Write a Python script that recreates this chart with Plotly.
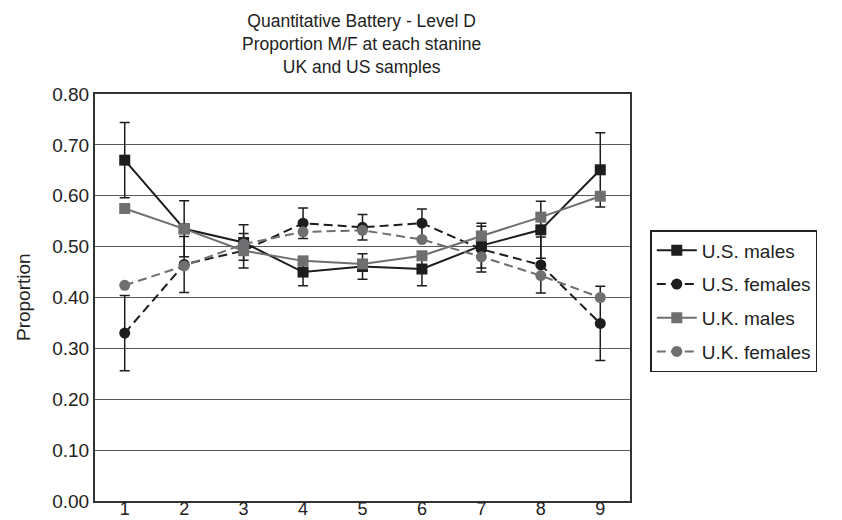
import plotly.graph_objects as go

stanines = [1, 2, 3, 4, 5, 6, 7, 8, 9]
us_males = [0.670, 0.535, 0.508, 0.450, 0.461, 0.456, 0.502, 0.533, 0.651]
us_males_err = [0.074, 0.055, 0.035, 0.027, 0.025, 0.033, 0.044, 0.056, 0.073]
us_females = [0.330, 0.465, 0.492, 0.546, 0.538, 0.546, 0.495, 0.464, 0.349]
us_females_err = [0.074, 0.055, 0.034, 0.030, 0.025, 0.028, 0.045, 0.055, 0.073]
uk_males = [0.575, 0.535, 0.492, 0.472, 0.466, 0.482, 0.521, 0.558, 0.599]
uk_females = [0.424, 0.462, 0.505, 0.529, 0.532, 0.514, 0.480, 0.443, 0.400]
y_ticks = [0.0, 0.1, 0.2, 0.3, 0.4, 0.5, 0.6, 0.7, 0.8]
title_lines = ["Quantitative Battery - Level D",
               "Proportion M/F at each stanine",
               "UK and US samples"]

BLACK = "#1e1c1d"
GREY = "#6f6f71"
FONT = "Liberation Sans, Arial, sans-serif"

W, H = 842, 520
L, R, T, B = 86.5, 621.7, 86.0, 493.0

fig = go.Figure()
fig.add_trace(go.Scatter(
    x=stanines, y=us_males, name="U.S. males", legendgroup="a",
    mode="lines+markers",
    line=dict(color=BLACK, width=2),
    marker=dict(symbol="square", size=11, color=BLACK),
    error_y=dict(type="data", array=us_males_err, color=BLACK, thickness=1.5, width=5),
))
fig.add_trace(go.Scatter(
    x=stanines, y=us_females, name="U.S. females", legendgroup="b",
    mode="lines+markers",
    line=dict(color=BLACK, width=2, dash="9px,5px"),
    marker=dict(symbol="circle", size=11, color=BLACK),
    error_y=dict(type="data", array=us_females_err, color=BLACK, thickness=1.5, width=5),
))
fig.add_trace(go.Scatter(
    x=stanines, y=uk_males, name="U.K. males", legendgroup="c",
    mode="lines+markers",
    line=dict(color=GREY, width=2),
    marker=dict(symbol="square", size=11, color=GREY),
))
fig.add_trace(go.Scatter(
    x=stanines, y=uk_females, name="U.K. females", legendgroup="d",
    mode="lines+markers",
    line=dict(color=GREY, width=2, dash="9px,5px"),
    marker=dict(symbol="circle", size=11, color=GREY),
))


def px_x(p):
    return (p - L) / (R - L)


def px_y(p):
    return (B - p) / (B - T)


fig.add_annotation(text="<br>".join(title_lines), xref="paper", yref="paper",
                   x=px_x(353), y=px_y(35.5), xanchor="center", yanchor="middle",
                   align="center", showarrow=False,
                   font=dict(size=17.5, color="#222", family=FONT))

fig.add_annotation(text="Proportion", xref="paper", yref="paper",
                   x=px_x(15), y=0.5, xanchor="center", yanchor="middle",
                   textangle=-90, showarrow=False,
                   font=dict(size=19, color="#222", family=FONT))

fig.update_layout(
    width=W, height=H,
    margin=dict(l=L, r=W - R, t=T, b=H - B, pad=0, autoexpand=False),
    paper_bgcolor="white", plot_bgcolor="white",
    font=dict(family=FONT, size=19, color="#222"),
    showlegend=True,
    legend=dict(x=px_x(642), y=px_y(222), xanchor="left", yanchor="top",
                bordercolor="#222", borderwidth=1.5, tracegroupgap=6,
                font=dict(size=19, family=FONT, color="#222"),
                itemwidth=40),
)
fig.update_xaxes(
    range=[0.5, 9.5], tickmode="array", tickvals=stanines,
    ticktext=[str(s) for s in stanines], automargin=False,
    showgrid=False, showline=True, linecolor="#333", linewidth=2,
    mirror=True, ticks="", zeroline=False, ticklabelstandoff=-10,
    tickfont=dict(size=18),
)
fig.update_yaxes(
    range=[0, 0.8], tickmode="array", tickvals=y_ticks,
    ticktext=[f"{v:.2f}" for v in y_ticks], automargin=False,
    showgrid=True, gridcolor="#5a5a5a", gridwidth=1.3,
    showline=True, linecolor="#333", linewidth=2, mirror=True,
    ticks="", zeroline=False,
)

fig.write_html("out.html")
